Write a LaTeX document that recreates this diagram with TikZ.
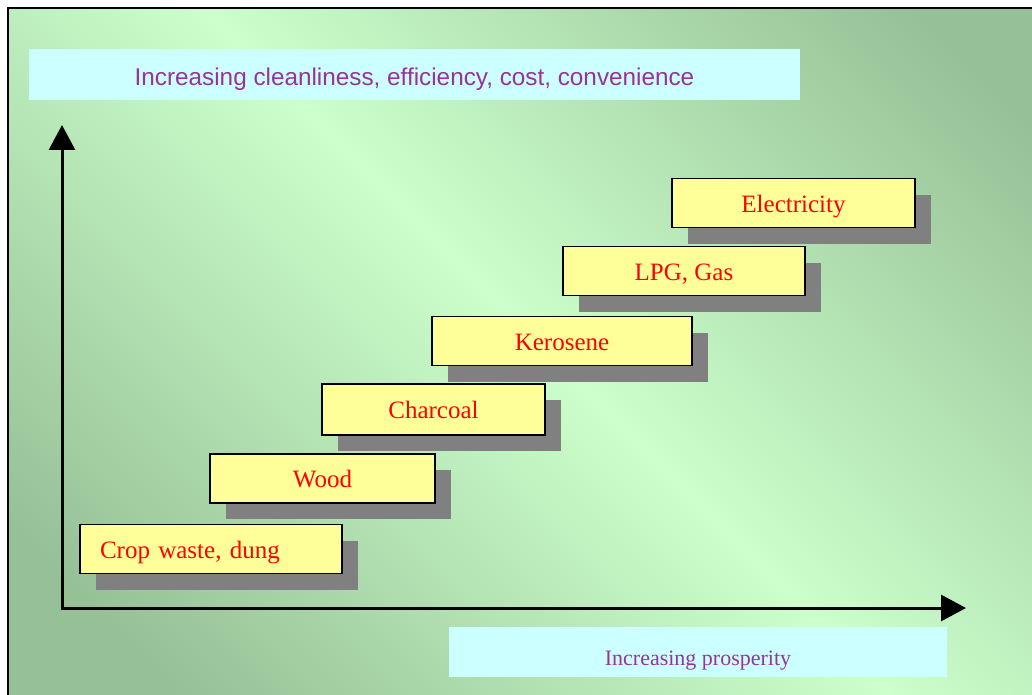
\documentclass[tikz,border=0pt]{standalone}
\usepackage{fontspec}
\setmainfont{Liberation Serif}
\newfontfamily\labelfont{Liberation Sans}
\usetikzlibrary{arrows.meta,shadows}

\definecolor{bgdark}{RGB}{150,192,150}
\definecolor{bglight}{RGB}{204,255,204}
\definecolor{fuelyellow}{RGB}{255,255,153}
\definecolor{labelcyan}{RGB}{204,255,255}
\definecolor{labelpurple}{RGB}{153,51,153}
\definecolor{shadowgray}{RGB}{128,128,128}

\begin{document}
\begin{tikzpicture}[
    x=1pt, y=-1pt,
    fuel/.style={rectangle, draw=black, line width=1.6pt, fill=fuelyellow, minimum height=49pt, inner sep=0pt, text=red, text height=24pt, text depth=6pt, font=\fontsize{25}{28}\selectfont, drop shadow={shadow xshift=16pt, shadow yshift=-16pt, fill=shadowgray, opacity=1}},
    axislabel/.style={rectangle, fill=labelcyan, minimum height=51pt, inner sep=0pt, text=labelpurple},
    axis/.style={line width=3pt, {Triangle[length=25pt,width=26pt]}-{Triangle[length=25pt,width=26pt]}}
]
\useasboundingbox (0,0) rectangle (1032,695);

% slide background (the slide runs on past the right and bottom edges)
\shade[top color=bgdark, bottom color=bgdark, middle color=bglight, shading angle=-45] (8,8) rectangle (1220,830);
\draw[line width=2.5pt] (8,695) -- (8,8) -- (1032,8);

% axis labels
\node[axislabel, minimum width=771pt, text height=25pt, text depth=2pt, font=\labelfont\fontsize{24.3}{28}\selectfont] (ylabel) at (414.5,74.5) {Increasing cleanliness, efficiency, cost, convenience};
\node[axislabel, minimum width=498pt, minimum height=50pt, text height=28pt, text depth=2pt, font=\fontsize{22}{26}\selectfont] (xlabel) at (698,652) {Increasing prosperity};

% axes
\coordinate (origin) at (62,608);
\coordinate (ytip) at (62,125);
\coordinate (xtip) at (966,608);
\draw[axis] (ytip) -- (origin) -- (xtip);

% fuel ladder
\node[fuel, minimum width=262pt, text width=222pt, align=left] (crop) at (211,549) {Crop waste, dung};
\node[fuel, minimum width=225pt] (wood) at (322.5,478.5) {Wood};
\node[fuel, minimum width=223pt, minimum height=51pt] (charcoal) at (433.5,409.5) {Charcoal};
\node[fuel, minimum width=260pt] (kerosene) at (562,341) {Kerosene};
\node[fuel, minimum width=242pt] (lpg) at (684,271) {LPG, Gas};
\node[fuel, minimum width=243pt] (electricity) at (793.5,203) {Electricity};

\end{tikzpicture}
\end{document}
